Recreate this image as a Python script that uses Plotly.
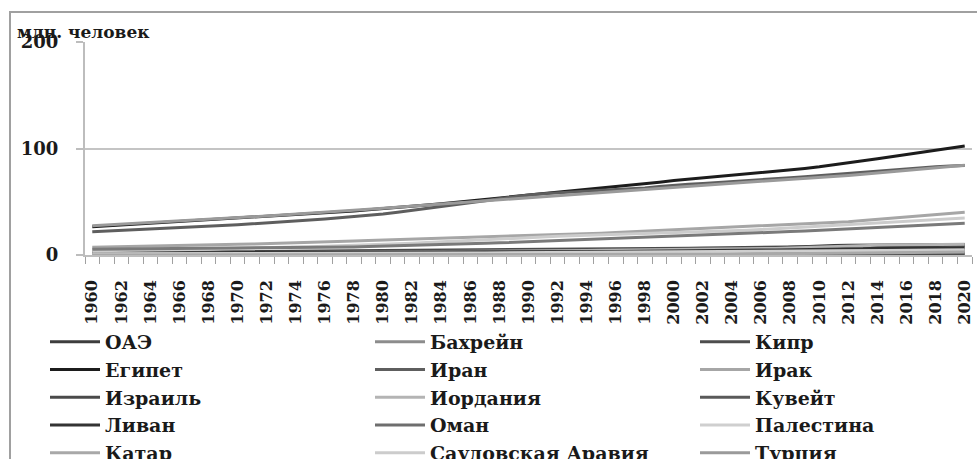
import plotly.graph_objects as go

years = list(range(1960, 2021))

# population, million people
uae = [0.1, 0.1, 0.1, 0.1, 0.1, 0.1, 0.2, 0.2, 0.2, 0.2,
       0.2, 0.3, 0.3, 0.4, 0.5, 0.5, 0.6, 0.7, 0.8, 0.9,
       1.0, 1.1, 1.2, 1.3, 1.4, 1.5, 1.5, 1.6, 1.7, 1.8,
       1.8, 1.9, 2.0, 2.1, 2.2, 2.3, 2.5, 2.6, 2.8, 2.9,
       3.1, 3.3, 3.5, 3.7, 4.1, 4.6, 5.3, 6.2, 7.2, 8.0,
       8.5, 8.9, 9.1, 9.2, 9.2, 9.3, 9.4, 9.5, 9.6, 9.8,
       9.9]
bahrain = [0.16, 0.17, 0.17, 0.18, 0.18, 0.19, 0.19, 0.20, 0.20, 0.21,
           0.21, 0.22, 0.23, 0.24, 0.26, 0.27, 0.29, 0.31, 0.33, 0.35,
           0.36, 0.38, 0.40, 0.41, 0.43, 0.44, 0.45, 0.46, 0.48, 0.49,
           0.50, 0.52, 0.54, 0.56, 0.58, 0.60, 0.62, 0.64, 0.66, 0.69,
           0.71, 0.73, 0.76, 0.79, 0.83, 0.88, 0.95, 1.03, 1.11, 1.19,
           1.24, 1.28, 1.30, 1.32, 1.34, 1.37, 1.43, 1.49, 1.57, 1.64,
           1.70]
cyprus = [0.57, 0.58, 0.59, 0.59, 0.59, 0.60, 0.60, 0.61, 0.61, 0.61,
          0.61, 0.62, 0.63, 0.63, 0.63, 0.62, 0.62, 0.63, 0.64, 0.66,
          0.68, 0.69, 0.70, 0.71, 0.72, 0.73, 0.74, 0.75, 0.76, 0.77,
          0.77, 0.79, 0.81, 0.83, 0.85, 0.87, 0.88, 0.90, 0.91, 0.93,
          0.94, 0.95, 0.97, 0.99, 1.00, 1.03, 1.05, 1.07, 1.09, 1.10,
          1.11, 1.12, 1.13, 1.14, 1.15, 1.16, 1.17, 1.18, 1.20, 1.22,
          1.24]
egypt = [26.6, 27.4, 28.2, 29.0, 29.8, 30.6, 31.4, 32.2, 33.0, 33.8,
         34.5, 35.3, 36.1, 36.9, 37.8, 38.7, 39.6, 40.5, 41.4, 42.4,
         43.4, 44.5, 45.7, 46.9, 48.2, 49.5, 50.8, 52.1, 53.4, 54.9,
         56.4, 57.7, 59.0, 60.3, 61.6, 62.9, 64.2, 65.5, 66.9, 68.4,
         69.9, 71.1, 72.3, 73.5, 74.7, 75.9, 77.2, 78.5, 79.9, 81.3,
         82.8, 84.5, 86.4, 88.4, 90.4, 92.4, 94.4, 96.4, 98.4, 100.4,
         102.3]
iran = [21.9, 22.5, 23.1, 23.7, 24.3, 24.9, 25.6, 26.3, 27.0, 27.8,
        28.5, 29.3, 30.1, 30.9, 31.8, 32.8, 33.8, 34.9, 36.0, 37.2,
        38.5, 40.2, 42.0, 43.9, 45.8, 47.7, 49.6, 51.5, 53.3, 55.0,
        56.4, 57.5, 58.5, 59.3, 60.1, 60.8, 61.5, 62.2, 63.0, 64.3,
        65.6, 66.4, 67.2, 68.0, 68.8, 69.7, 70.6, 71.5, 72.5, 73.5,
        74.6, 75.7, 76.7, 77.9, 78.9, 79.9, 80.8, 81.8, 82.8, 83.5,
        84.0]
iraq = [7.3, 7.5, 7.8, 8.0, 8.3, 8.5, 8.8, 9.1, 9.4, 9.7,
        10.0, 10.3, 10.6, 11.0, 11.4, 11.8, 12.2, 12.6, 13.1, 13.6,
        14.0, 14.4, 14.8, 15.2, 15.6, 16.0, 16.4, 16.8, 17.2, 17.6,
        17.9, 18.2, 18.7, 19.3, 19.9, 20.5, 21.1, 21.7, 22.3, 22.9,
        23.6, 24.2, 24.9, 25.6, 26.3, 27.0, 27.6, 28.1, 28.6, 29.1,
        29.7, 30.5, 31.3, 32.4, 33.5, 34.6, 35.6, 36.6, 37.6, 39.3,
        40.2]
israel = [2.1, 2.2, 2.3, 2.4, 2.5, 2.6, 2.7, 2.7, 2.8, 2.9,
          3.0, 3.1, 3.2, 3.3, 3.4, 3.5, 3.6, 3.7, 3.7, 3.8,
          3.9, 4.0, 4.1, 4.1, 4.2, 4.3, 4.4, 4.4, 4.5, 4.6,
          4.7, 5.1, 5.3, 5.5, 5.6, 5.7, 5.9, 6.0, 6.1, 6.2,
          6.3, 6.4, 6.6, 6.7, 6.8, 6.9, 7.1, 7.2, 7.3, 7.5,
          7.6, 7.8, 7.9, 8.1, 8.2, 8.4, 8.5, 8.7, 8.9, 9.1,
          9.2]
jordan = [0.9, 1.0, 1.0, 1.1, 1.2, 1.2, 1.3, 1.4, 1.5, 1.6,
          1.7, 1.8, 1.8, 1.9, 2.0, 2.0, 2.1, 2.2, 2.2, 2.3,
          2.3, 2.4, 2.5, 2.6, 2.7, 2.8, 2.9, 3.0, 3.1, 3.2,
          3.6, 3.8, 4.0, 4.2, 4.3, 4.5, 4.6, 4.7, 4.8, 5.0,
          5.1, 5.2, 5.3, 5.4, 5.5, 5.7, 5.9, 6.2, 6.6, 6.9,
          7.3, 7.6, 8.1, 8.6, 9.1, 9.5, 9.7, 9.8, 10.0, 10.1,
          10.2]
kuwait = [0.3, 0.3, 0.4, 0.4, 0.4, 0.5, 0.5, 0.6, 0.6, 0.7,
          0.8, 0.8, 0.9, 0.9, 1.0, 1.0, 1.1, 1.2, 1.2, 1.3,
          1.4, 1.4, 1.5, 1.6, 1.7, 1.8, 1.8, 1.9, 2.0, 2.0,
          2.1, 1.7, 1.5, 1.5, 1.6, 1.6, 1.7, 1.8, 1.8, 1.9,
          1.9, 2.0, 2.1, 2.2, 2.3, 2.4, 2.6, 2.7, 2.8, 2.9,
          3.0, 3.1, 3.3, 3.5, 3.7, 3.8, 4.0, 4.1, 4.3, 4.4,
          4.4]
lebanon = [1.8, 1.8, 1.9, 1.9, 2.0, 2.0, 2.1, 2.1, 2.2, 2.2,
           2.3, 2.4, 2.5, 2.6, 2.6, 2.7, 2.7, 2.7, 2.7, 2.7,
           2.7, 2.7, 2.6, 2.6, 2.6, 2.6, 2.6, 2.6, 2.6, 2.6,
           2.7, 2.8, 2.9, 3.0, 3.1, 3.3, 3.4, 3.6, 3.8, 3.9,
           4.0, 4.2, 4.3, 4.4, 4.5, 4.6, 4.7, 4.7, 4.8, 4.9,
           5.0, 5.1, 5.4, 5.9, 6.4, 6.5, 6.7, 6.8, 6.9, 6.9,
           6.8]
oman = [0.6, 0.6, 0.6, 0.6, 0.6, 0.6, 0.6, 0.7, 0.7, 0.7,
        0.7, 0.7, 0.8, 0.8, 0.9, 0.9, 0.9, 1.0, 1.0, 1.1,
        1.2, 1.2, 1.3, 1.4, 1.5, 1.5, 1.6, 1.7, 1.7, 1.8,
        1.8, 1.9, 2.0, 2.0, 2.1, 2.2, 2.2, 2.2, 2.2, 2.3,
        2.3, 2.3, 2.4, 2.4, 2.4, 2.5, 2.6, 2.6, 2.7, 2.9,
        3.0, 3.2, 3.5, 3.8, 4.0, 4.3, 4.5, 4.7, 4.8, 5.0,
        5.1]
palestine = [1.1, 1.1, 1.1, 1.2, 1.2, 1.2, 1.2, 1.1, 1.1, 1.1,
             1.1, 1.2, 1.2, 1.2, 1.3, 1.3, 1.3, 1.4, 1.4, 1.5,
             1.5, 1.6, 1.6, 1.7, 1.7, 1.8, 1.8, 1.9, 2.0, 2.0,
             2.1, 2.2, 2.3, 2.4, 2.5, 2.6, 2.7, 2.8, 2.9, 3.0,
             3.1, 3.1, 3.2, 3.3, 3.3, 3.4, 3.5, 3.6, 3.6, 3.7,
             3.8, 3.9, 4.0, 4.1, 4.2, 4.3, 4.4, 4.5, 4.6, 4.7,
             4.8]
qatar = [0.05, 0.05, 0.06, 0.06, 0.07, 0.07, 0.08, 0.09, 0.10, 0.11,
         0.12, 0.13, 0.14, 0.15, 0.17, 0.18, 0.20, 0.22, 0.25, 0.27,
         0.28, 0.31, 0.33, 0.35, 0.38, 0.40, 0.42, 0.44, 0.46, 0.47,
         0.48, 0.49, 0.50, 0.50, 0.51, 0.52, 0.53, 0.54, 0.56, 0.57,
         0.59, 0.61, 0.65, 0.71, 0.80, 0.90, 1.04, 1.22, 1.42, 1.60,
         1.71, 1.79, 1.90, 2.04, 2.22, 2.41, 2.57, 2.67, 2.70, 2.76,
         2.76]
saudi = [4.1, 4.2, 4.4, 4.5, 4.7, 4.9, 5.1, 5.3, 5.5, 5.8,
         6.0, 6.3, 6.6, 7.0, 7.4, 7.8, 8.2, 8.7, 9.1, 9.4,
         9.8, 10.4, 11.1, 11.8, 12.5, 13.3, 14.0, 14.7, 15.3, 15.8,
         16.2, 16.9, 17.5, 18.0, 18.4, 18.8, 19.2, 19.6, 20.0, 20.3,
         20.7, 21.2, 21.7, 22.1, 22.6, 23.3, 24.0, 24.8, 25.7, 26.6,
         27.4, 28.1, 28.8, 29.5, 30.2, 31.0, 31.8, 32.6, 33.4, 34.2,
         34.8]
turkey = [27.5, 28.2, 28.9, 29.7, 30.4, 31.2, 31.9, 32.7, 33.4, 34.2,
          35.0, 35.8, 36.7, 37.5, 38.4, 39.3, 40.2, 41.1, 42.1, 43.0,
          44.0, 45.0, 46.0, 47.0, 48.0, 49.0, 50.0, 51.0, 52.0, 53.0,
          53.9, 54.9, 55.9, 56.9, 57.8, 58.8, 59.8, 60.8, 61.9, 63.0,
          64.1, 65.0, 65.9, 66.8, 67.6, 68.4, 69.2, 70.0, 70.8, 71.5,
          72.3, 73.4, 74.6, 75.8, 77.0, 78.3, 79.6, 80.8, 82.0, 83.4,
          84.3]
yemen = [5.3, 5.4, 5.4, 5.5, 5.6, 5.7, 5.8, 5.9, 6.0, 6.1,
         6.2, 6.3, 6.5, 6.6, 6.8, 7.0, 7.2, 7.4, 7.6, 7.9,
         8.2, 8.6, 8.9, 9.3, 9.7, 10.1, 10.5, 11.0, 11.4, 11.9,
         12.4, 13.1, 13.8, 14.4, 15.0, 15.5, 16.0, 16.5, 16.9, 17.0,
         17.4, 17.9, 18.4, 19.0, 19.5, 20.1, 20.7, 21.3, 22.0, 22.6,
         23.2, 23.8, 24.5, 25.1, 25.8, 26.5, 27.2, 27.8, 28.5, 29.2,
         29.8]

names = ["ОАЭ", "Бахрейн", "Кипр", "Египет", "Иран", "Ирак", "Израиль",
         "Иордания", "Кувейт", "Ливан", "Оман", "Палестина", "Катар",
         "Саудовская Аравия", "Турция", "Йемен"]
series = [uae, bahrain, cyprus, egypt, iran, iraq, israel, jordan, kuwait,
          lebanon, oman, palestine, qatar, saudi, turkey, yemen]
colors = ["#3d3d3d", "#8c8c8c", "#4d4d4d", "#1c1c1c", "#5e5e5e", "#a6a6a6",
          "#4a4a4a", "#b4b4b4", "#5a5a5a", "#333333", "#6e6e6e", "#cfcfcf",
          "#a8a8a8", "#cccccc", "#9a9a9a", "#7a7a7a"]

W, H = 977, 459
L, R, T, B = 85, 5, 42, 204
pw, ph = W - L - R, H - T - B

def px(x):
    return (x - L) / pw

def py(y):
    return (H - B - y) / ph

fig = go.Figure()
for n, s, c in zip(names, series, colors):
    fig.add_trace(go.Scatter(x=years, y=s, name=n, mode="lines",
                             line=dict(color=c, width=3)))

font_main = "DejaVu Serif"
NB = "\u00a0"
fig.update_layout(
    width=W, height=H,
    margin=dict(l=L, r=R, t=T, b=B, autoexpand=False),
    plot_bgcolor="white", paper_bgcolor="white",
    font=dict(family=font_main, color="#1a1a1a"),
    showlegend=True,
    legend=dict(orientation="h", x=px(45), y=py(323), xanchor="left",
                yanchor="top", entrywidth=260, entrywidthmode="pixels",
                itemwidth=50, traceorder="normal",
                font=dict(family=font_main, size=19, color="#1a1a1a",
                          weight="bold"),
                bgcolor="rgba(0,0,0,0)"),
    xaxis=dict(range=[1959.5, 2020.5], tickmode="linear", tick0=1960,
               dtick=2, ticks="", tickangle=-90, showgrid=False,
               ticksuffix=NB * 3,
               zeroline=False, showline=True, linecolor="#bdbdbd",
               linewidth=2,
               tickfont=dict(family=font_main, size=16, color="#1a1a1a",
                             weight="bold"),
               minor=dict(ticks="outside", ticklen=7, tickwidth=1,
                          tickcolor="#a0a0a0", dtick=1, tick0=1959.5,
                          showgrid=False)),
    yaxis=dict(range=[0, 200], tickmode="linear", tick0=0, dtick=100,
               showgrid=True, gridcolor="#c4c4c4", gridwidth=2,
               zeroline=False, showline=True, linecolor="#bdbdbd",
               linewidth=2, ticks="outside", ticklen=7, tickcolor="#bdbdbd",
               tickwidth=2, ticklabelstandoff=14,
               tickfont=dict(family=font_main, size=18, color="#1a1a1a",
                             weight="bold")),
)

fig.add_annotation(text="млн. человек", xref="paper", yref="paper",
                   x=px(15), y=py(32), xanchor="left", yanchor="middle",
                   showarrow=False,
                   font=dict(family=font_main, size=17, color="#1a1a1a",
                             weight="bold"))

fig.add_shape(type="rect", xref="paper", yref="paper",
              x0=px(10), x1=px(990), y0=py(12), y1=py(480),
              line=dict(color="#a0a0a0", width=2), layer="below")

fig.write_html("out.html")
